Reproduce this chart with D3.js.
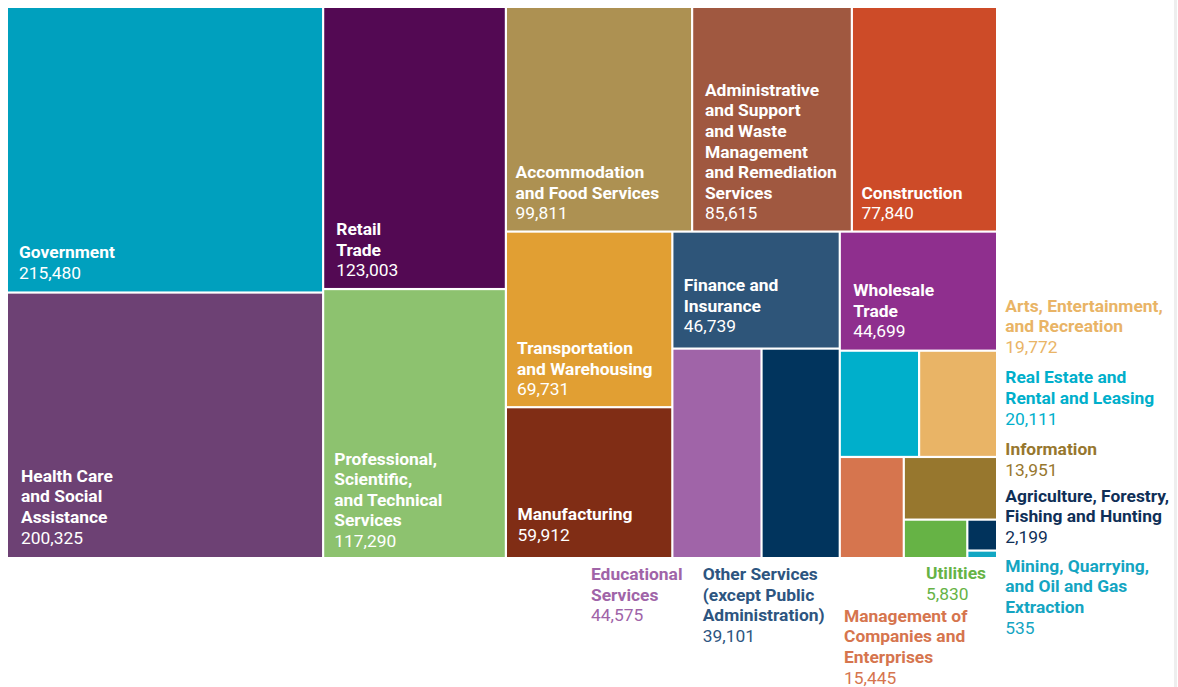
<!DOCTYPE html>
<html>
<head>
<meta charset="utf-8">
<script src="https://cdn.jsdelivr.net/npm/d3@7"></script>
<style>
  html, body { margin: 0; padding: 0; background: #ffffff; }
  svg { display: block; font-family: Roboto, "Open Sans", sans-serif; }
</style>
</head>
<body>
<svg id="chart" width="1178" height="687"></svg>
<script>
// ---------- data ----------
const categories = [
  "Government",
  "Health Care and Social Assistance",
  "Retail Trade",
  "Professional, Scientific, and Technical Services",
  "Accommodation and Food Services",
  "Administrative and Support and Waste Management and Remediation Services",
  "Construction",
  "Transportation and Warehousing",
  "Manufacturing",
  "Finance and Insurance",
  "Wholesale Trade",
  "Educational Services",
  "Other Services (except Public Administration)",
  "Real Estate and Rental and Leasing",
  "Arts, Entertainment, and Recreation",
  "Management of Companies and Enterprises",
  "Information",
  "Utilities",
  "Agriculture, Forestry, Fishing and Hunting",
  "Mining, Quarrying, and Oil and Gas Extraction"
];
const values = [
  215480, 200325, 123003, 117290, 99811, 85615, 77840, 69731, 59912,
  46739, 44699, 44575, 39101, 20111, 19772, 15445, 13951, 5830, 2199, 535
];

// ---------- style ----------
const cellColors = [
  "#00A0BE", "#6D4174", "#530953", "#8DC26F", "#AD9152", "#A05840", "#CD4B28",
  "#E19F33", "#802D15", "#2E5579", "#8F2F8E", "#A064A8", "#01345D", "#00AFCB",
  "#E9B466", "#D6754E", "#97772E", "#66B345", "#01335C", "#12A7C3"
];
const labelColors = {
  11: "#A064A8", 12: "#2D5580", 13: "#00AFCB", 14: "#E9B466", 15: "#D6754E",
  16: "#97772E", 17: "#66B345", 18: "#0F2F57", 19: "#14A5C2"
};

// wrapped label lines
const labelLines = [
  ["Government"],
  ["Health Care", "and Social", "Assistance"],
  ["Retail", "Trade"],
  ["Professional,", "Scientific,", "and Technical", "Services"],
  ["Accommodation", "and Food Services"],
  ["Administrative", "and Support", "and Waste", "Management", "and Remediation", "Services"],
  ["Construction"],
  ["Transportation", "and Warehousing"],
  ["Manufacturing"],
  ["Finance and", "Insurance"],
  ["Wholesale", "Trade"],
  ["Educational", "Services"],
  ["Other Services", "(except Public", "Administration)"],
  ["Real Estate and", "Rental and Leasing"],
  ["Arts, Entertainment,", "and Recreation"],
  ["Management of", "Companies and", "Enterprises"],
  ["Information"],
  ["Utilities"],
  ["Agriculture, Forestry,", "Fishing and Hunting"],
  ["Mining, Quarrying,", "and Oil and Gas", "Extraction"]
];

// inside-label insets [left, bottom] per cell
const insideInset = {
  0: [11, 12.5], 1: [13, 13.4], 2: [12, 11.6], 3: [10, 10], 4: [8.5, 11],
  5: [11.7, 11], 6: [8.5, 11], 7: [10, 11], 8: [10.6, 16], 9: [10.3, 15], 10: [12.3, 12.3]
};
// outside labels: [x, first baseline]
const outsidePos = {
  11: [591, 580], 12: [702.7, 580], 17: [926, 579], 15: [844, 621.7],
  14: [1005.3, 311.7], 13: [1005.3, 383.3], 16: [1005.3, 455],
  18: [1005.3, 501.7], 19: [1005.3, 571.7]
};

// layout structure (row = side by side, col = stacked)
const structure = {dir: "row", children: [
  {dir: "col", children: [0, 1]},
  {dir: "col", children: [2, 3]},
  {dir: "col", children: [
    {dir: "row", children: [4, 5, 6]},
    {dir: "row", children: [
      {dir: "col", children: [7, 8]},
      {dir: "col", children: [9, {dir: "row", children: [11, 12]}]},
      {dir: "col", children: [10, {dir: "col", children: [
        {dir: "row", children: [13, 14]},
        {dir: "row", children: [15, {dir: "col", children: [
          16, {dir: "row", children: [17, {dir: "col", children: [18, 19]}]}
        ]}]}
      ]}]}
    ]}
  ]}
]};

function build(s) {
  if (typeof s === "number") return {id: s, name: categories[s], value: values[s]};
  return {dir: s.dir, children: s.children.map(build)};
}

const svg = d3.select("#chart");
const fmt = d3.format(",");
const LH = 20.6;
const FS = 17.4;

const root = d3.hierarchy(build(structure))
  .sum(d => d.value || 0);

d3.treemap()
  .size([988, 549])
  .paddingInner(2.2)
  .round(false)
  .tile((node, x0, y0, x1, y1) => {
    (node.data.dir === "col" ? d3.treemapSlice : d3.treemapDice)(node, x0, y0, x1, y1);
  })(root);

// faint right border line
svg.append("rect").attr("x", 1174).attr("y", 0).attr("width", 3).attr("height", 687)
  .attr("fill", "#eeeeee");

const g = svg.append("g").attr("transform", "translate(8,8)");
const leaves = root.leaves();

g.selectAll("rect.cell").data(leaves).join("rect")
  .attr("class", "cell")
  .attr("x", d => d.x0).attr("y", d => d.y0)
  .attr("width", d => Math.max(0, d.x1 - d.x0))
  .attr("height", d => Math.max(0, d.y1 - d.y0))
  .attr("fill", d => cellColors[d.data.id]);

// inside labels
leaves.filter(d => insideInset[d.data.id]).forEach(d => {
  const id = d.data.id;
  const [il, ib] = insideInset[id];
  const lines = labelLines[id];
  const x = d.x0 + il;
  const valueY = d.y1 - ib;
  const t = g.append("text").attr("fill", "#ffffff").attr("font-size", FS);
  lines.forEach((ln, i) => {
    t.append("tspan").attr("x", x)
      .attr("y", valueY - (lines.length - i) * LH)
      .attr("font-weight", 700).text(ln);
  });
  t.append("tspan").attr("x", x).attr("y", valueY).attr("font-weight", 400).text(fmt(values[id]));
});

// outside labels
Object.keys(outsidePos).forEach(k => {
  const id = +k;
  const [x, y0] = outsidePos[id];
  const lines = labelLines[id];
  const t = svg.append("text").attr("fill", labelColors[id]).attr("font-size", FS);
  lines.forEach((ln, i) => {
    t.append("tspan").attr("x", x).attr("y", y0 + i * LH).attr("font-weight", 700).text(ln);
  });
  t.append("tspan").attr("x", x).attr("y", y0 + lines.length * LH)
    .attr("font-weight", 400).text(fmt(values[id]));
});
</script>
</body>
</html>
